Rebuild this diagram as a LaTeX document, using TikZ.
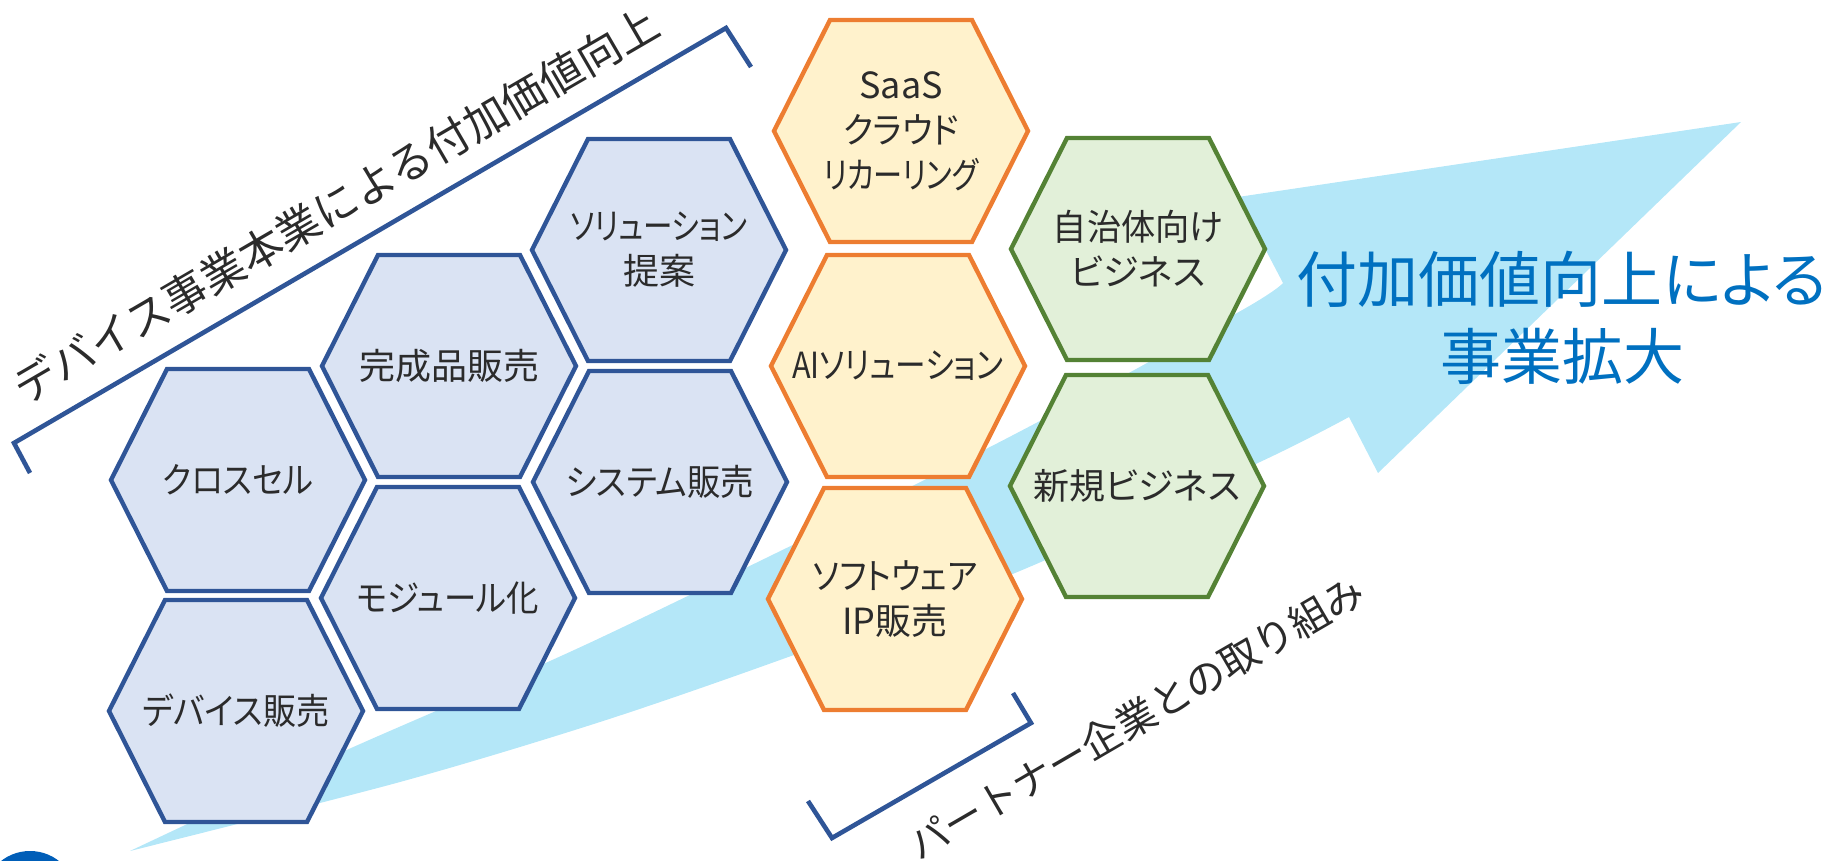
\documentclass[tikz,border=0pt]{standalone}
\usepackage{fontspec}
\usepackage{graphicx}
\setmainfont{Noto Sans CJK JP}
\newfontfamily\jpp[RawFeature=+palt]{Noto Sans CJK JP}
\usetikzlibrary{calc}
\definecolor{hexblueF}{HTML}{DAE3F3}
\definecolor{hexblueD}{HTML}{2F5597}
\definecolor{hexorF}{HTML}{FFF2CC}
\definecolor{hexorD}{HTML}{ED7D31}
\definecolor{hexgrF}{HTML}{E2F0D9}
\definecolor{hexgrD}{HTML}{548235}
\definecolor{arrowblue}{HTML}{B4E7F8}
\definecolor{titleblue}{HTML}{0070C0}
\definecolor{txtgray}{HTML}{2B2B2B}
\definecolor{dotblue}{HTML}{005EB8}
\tikzset{
  hexblue/.style={draw=hexblueD, fill=hexblueF, line width=2.2pt},
  hexorange/.style={draw=hexorD, fill=hexorF, line width=2.2pt},
  hexgreen/.style={draw=hexgrD, fill=hexgrF, line width=2.2pt},
  hextext/.style={text=txtgray, align=center, inner sep=0pt, font=\jpp\fontsize{18}{22.5}\selectfont},
  bracketline/.style={draw=hexblueD, line width=2.3pt},
  slanttext/.style={text=txtgray, inner sep=0pt, rotate=30.2},
  titletext/.style={text=titleblue, align=center, inner sep=0pt, font=\jpp\fontsize{30.5}{38.5}\selectfont}
}
\newcommand{\sq}[2]{\scalebox{#1}[1]{#2}}
\newcommand{\hexcell}[4]{%
  \begin{scope}[shift={(#2)}]
    \path[#3] (-71,-111) -- (71,-111) -- (127,0) -- (71,111) -- (-71,111) -- (-127,0) -- cycle;
  \end{scope}
  \node[hextext] (#1) at (#2) {#4};
}
\begin{document}
\begin{tikzpicture}[x=0.5pt, y=-0.5pt]
\useasboundingbox (0,0) rectangle (1827,861);
\begin{scope}
\clip (0,0) rectangle (1827,861);
% big arrow
\fill[arrowblue] plot[smooth, tension=0.5] coordinates {(130,851) (340,753) (600,638) (988,448) (1237,313) (1283,283)}
  -- (1238,197) -- (1741,122) -- (1378,473) -- (1349,417)
  -- plot[smooth, tension=0.5] coordinates {(1349,417) (1260,462) (1015,573) (780,660) (600,722) (400,782) (130,851)} -- cycle;
% partial dot at bottom left
\fill[dotblue] (30,898) circle[radius=47];
\end{scope}
% hexagons
\hexcell{cross}{238,480}{hexblue}{\sq{0.9}{クロスセル}}
\hexcell{devsale}{236,711}{hexblue}{\sq{0.92}{デバイス販売}}
\hexcell{finished}{449,366}{hexblue}{完成品販売}
\hexcell{module}{448,598}{hexblue}{\sq{0.9}{モジュール化}}
\hexcell{solprop}{659,250}{hexblue}{\sq{0.82}{ソリューション}\\提案}
\hexcell{syssale}{660,482}{hexblue}{\sq{0.93}{システム販売}}
\hexcell{saas}{901,131}{hexorange}{SaaS\\\sq{0.93}{クラウド}\\\sq{0.81}{リカーリング}}
\hexcell{aisol}{898,366}{hexorange}{\sq{0.85}{AIソリューション}}
\hexcell{software}{895,599}{hexorange}{\sq{0.9}{ソフトウェア}\\IP販売}
\hexcell{gov}{1138,249}{hexgreen}{\sq{0.95}{自治体向け}\\ビジネス}
\hexcell{newbiz}{1137,486}{hexgreen}{新規ビジネス}
% upper bracket
\coordinate (ubA) at (30,473);
\coordinate (ubB) at (14,443);
\coordinate (ubC) at (726,28);
\coordinate (ubD) at (751,67);
\draw[bracketline] (ubA) -- (ubB) -- (ubC) -- (ubD);
\node[slanttext, font=\fontsize{21.8}{26}\selectfont] (uptext) at (336,205) {デバイス事業本業による付加価値向上};
% lower bracket
\coordinate (lbA) at (808,801);
\coordinate (lbB) at (832,838);
\coordinate (lbC) at (1031,723);
\coordinate (lbD) at (1013,693);
\draw[bracketline] (lbA) -- (lbB) -- (lbC) -- (lbD);
\node[slanttext, font=\fontsize{20}{24}\selectfont] (lowtext) at (1136,718) {パートナー企業との取り組み};
% title
\node[titletext] (title) at (1562,318) {付加価値向上による\\事業拡大};
\end{tikzpicture}
\end{document}
